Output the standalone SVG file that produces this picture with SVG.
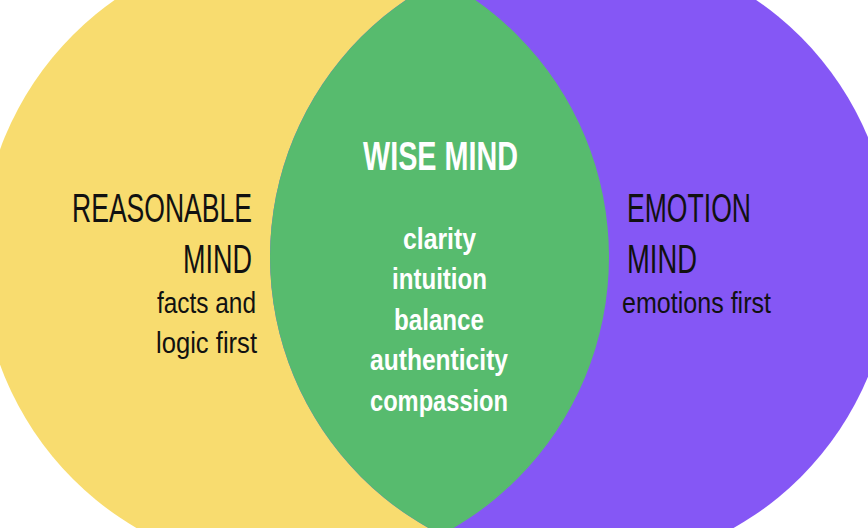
<svg xmlns="http://www.w3.org/2000/svg" width="868" height="528" viewBox="0 0 868 528">
  <style>
    .t { font-family: "Liberation Sans Narrow", "Liberation Sans", "DejaVu Sans", sans-serif; }
    .head { font-size: 40px; fill: #111111; }
    .sub { font-size: 30px; fill: #111111; }
    .wise { font-size: 40px; font-weight: bold; fill: #ffffff; }
    .quality { font-size: 29px; font-weight: bold; fill: #ffffff; }
  </style>
  <defs>
    <clipPath id="clipYellow">
      <circle cx="295" cy="257" r="314"/>
    </clipPath>
  </defs>
  <rect x="0" y="0" width="868" height="528" fill="#ffffff"/>
  <g id="reasonable-mind">
    <circle cx="295" cy="257" r="314" fill="#F8DC6F"/>
  </g>
  <g id="emotion-mind">
    <circle cx="581" cy="257" r="311" fill="#8557F5"/>
  </g>
  <g id="wise-mind">
    <circle cx="581" cy="257" r="311" fill="#57BB6E" clip-path="url(#clipYellow)"/>
  </g>
  <g id="reasonable-mind-text" class="t">
    <text class="head" x="72" y="222" textLength="180" lengthAdjust="spacingAndGlyphs">REASONABLE</text>
    <text class="head" x="183" y="273" textLength="69" lengthAdjust="spacingAndGlyphs">MIND</text>
    <text class="sub" x="157" y="313" textLength="99" lengthAdjust="spacingAndGlyphs">facts and</text>
    <text class="sub" x="156" y="353" textLength="101" lengthAdjust="spacingAndGlyphs">logic first</text>
  </g>
  <g id="emotion-mind-text" class="t">
    <text class="head" x="627" y="222" textLength="124" lengthAdjust="spacingAndGlyphs">EMOTION</text>
    <text class="head" x="627" y="273" textLength="70" lengthAdjust="spacingAndGlyphs">MIND</text>
    <text class="sub" x="622" y="313" textLength="149" lengthAdjust="spacingAndGlyphs">emotions first</text>
  </g>
  <g id="wise-mind-text" class="t">
    <text class="wise" x="363" y="170" textLength="155" lengthAdjust="spacingAndGlyphs">WISE MIND</text>
    <text class="quality" x="403" y="249" textLength="73" lengthAdjust="spacingAndGlyphs">clarity</text>
    <text class="quality" x="392" y="289" textLength="95" lengthAdjust="spacingAndGlyphs">intuition</text>
    <text class="quality" x="394" y="330" textLength="90" lengthAdjust="spacingAndGlyphs">balance</text>
    <text class="quality" x="370" y="370" textLength="138" lengthAdjust="spacingAndGlyphs">authenticity</text>
    <text class="quality" x="370" y="411" textLength="138" lengthAdjust="spacingAndGlyphs">compassion</text>
  </g>
</svg>
